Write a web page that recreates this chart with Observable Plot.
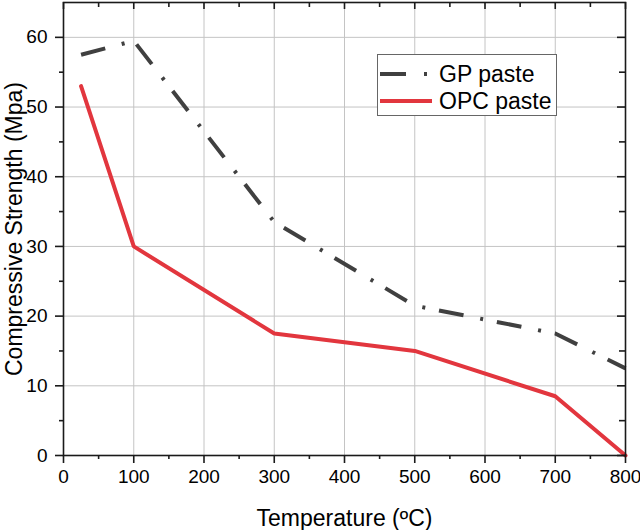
<!DOCTYPE html>
<html>
<head>
<meta charset="utf-8">
<script src="https://cdn.jsdelivr.net/npm/d3@7"></script>
<script src="https://cdn.jsdelivr.net/npm/@observablehq/plot@0.6"></script>
<style>
  html, body { margin: 0; padding: 0; background: #fff; }
  #wrap { position: relative; width: 640px; height: 530px; font-family: "Liberation Sans", Arial, sans-serif; }
  #legend { position: absolute; left: 377px; top: 54px; width: 180px; height: 62px; border: 1px solid #666; background: #fff; box-sizing: border-box; }
  #legend .row { position: absolute; left: 0; height: 26px; display: flex; align-items: center; font-size: 23px; color: #000; white-space: nowrap; }
  #legend svg { margin-left: 2px; margin-right: 7px; }
</style>
</head>
<body>
<div id="wrap"></div>
<script>
const temps = [25, 100, 300, 500, 700, 800];
const gpPaste = [57.5, 59.5, 33.5, 21.5, 17.5, 12.5];
const opcPaste = [53, 30, 17.5, 15, 8.5, 0];
const seriesNames = ["GP paste", "OPC paste"];
const xTicks = [0, 100, 200, 300, 400, 500, 600, 700, 800];
const xMinor = [50, 150, 250, 350, 450, 550, 650, 750];
const yTicks = [0, 10, 20, 30, 40, 50, 60];
const yMinor = [5, 15, 25, 35, 45, 55];

const W = 640, H = 530, mL = 63, mR = 15, mT = 2, mB = 75;
const fw = W - mL - mR, fh = H - mT - mB;
const gpColor = "#404040", opcColor = "#e2363e";

const gpData = temps.map((t, i) => ({t, v: gpPaste[i]}));
const opcData = temps.map((t, i) => ({t, v: opcPaste[i]}));

const chart = Plot.plot({
  width: W, height: H,
  marginLeft: mL, marginRight: mR, marginTop: mT, marginBottom: mB,
  style: {fontFamily: "Liberation Sans, Arial, sans-serif", fontSize: "19px", color: "#000", background: "#fff"},
  x: {domain: [0, 800]},
  y: {domain: [0, 65]},
  marks: [
    Plot.gridX(xTicks.slice(1, -1), {stroke: "#c4c4c4", strokeOpacity: 1, strokeWidth: 1}),
    Plot.gridY(yTicks.slice(1), {stroke: "#c4c4c4", strokeOpacity: 1, strokeWidth: 1}),
    Plot.line(opcData, {x: "t", y: "v", stroke: opcColor, strokeWidth: 4, strokeLinejoin: "miter"}),
    Plot.line(gpData, {x: "t", y: "v", stroke: gpColor, strokeWidth: 4, strokeDasharray: "25,17,3,14", strokeLinecap: "butt"}),
    Plot.frame({stroke: "#1a1a1a", strokeWidth: 1.6}),
    Plot.axisX(xTicks, {tickSize: 8, tickPadding: 6, fontSize: 19, stroke: "#1a1a1a", strokeWidth: 1.6,
      label: "Temperature (ºC)", labelAnchor: "center", labelArrow: "none", labelOffset: 70}),
    Plot.axisX(xMinor, {tickSize: 4, text: null, label: null, stroke: "#1a1a1a", strokeWidth: 1.6}),
    Plot.axisY(yTicks, {tickSize: 8, tickPadding: 8, fontSize: 19, stroke: "#1a1a1a", strokeWidth: 1.6,
      label: "Compressive Strength (Mpa)", labelAnchor: "center", labelArrow: "none", labelOffset: 58}),
    Plot.axisY(yMinor, {tickSize: 4, text: null, label: null, stroke: "#1a1a1a", strokeWidth: 1.6}),
    // inward ticks on top and right
    Plot.tickX(xTicks, {x: d => d, insetBottom: fh - 7, stroke: "#1a1a1a", strokeWidth: 1.6}),
    Plot.tickX(xMinor, {x: d => d, insetBottom: fh - 5, stroke: "#1a1a1a", strokeWidth: 1.6}),
    Plot.tickY(yTicks, {y: d => d, insetLeft: fw - 8, stroke: "#1a1a1a", strokeWidth: 1.6}),
    Plot.tickY(yMinor, {y: d => d, insetLeft: fw - 6, stroke: "#1a1a1a", strokeWidth: 1.6})
  ]
});

// enlarge axis titles
chart.querySelectorAll("g[aria-label='x-axis label'] text, g[aria-label='y-axis label'] text").forEach(t => t.setAttribute("font-size", "23"));

const wrap = document.getElementById("wrap");
wrap.appendChild(chart);

const legend = document.createElement("div");
legend.id = "legend";
legend.innerHTML = `
  <div class="row" style="top:6px">
    <svg width="52" height="10"><line x1="0" y1="5" x2="52" y2="5" stroke="${gpColor}" stroke-width="4" stroke-dasharray="26,18,3,20"/></svg>${seriesNames[0]}
  </div>
  <div class="row" style="top:33px">
    <svg width="52" height="10"><line x1="0" y1="5" x2="52" y2="5" stroke="${opcColor}" stroke-width="4"/></svg>${seriesNames[1]}
  </div>`;
wrap.appendChild(legend);
</script>
</body>
</html>
